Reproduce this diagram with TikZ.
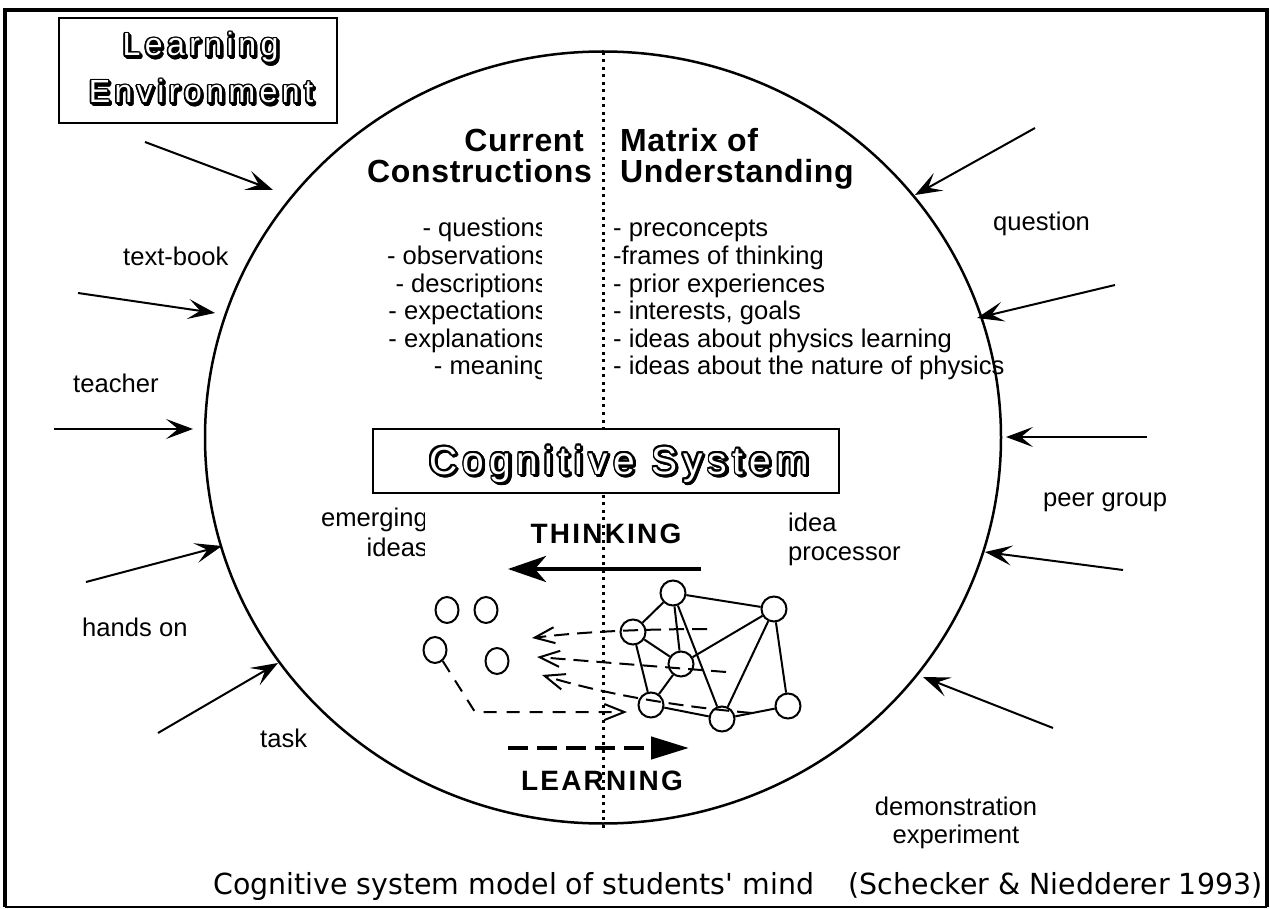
\documentclass[tikz,border=0pt]{standalone}
\usepackage{fontspec}
\usepackage{graphicx}
\setmainfont{Liberation Sans}
\newfontfamily\outfont[LetterSpace=14]{Liberation Sans}
\newfontfamily\headfont[LetterSpace=2]{Liberation Sans}
\newfontfamily\thinkfont[LetterSpace=8]{Liberation Sans}
\newfontfamily\capfont{DejaVu Sans}
\usetikzlibrary{arrows.meta,calc,shapes.geometric}

% outlined text with shadow: #1 name, #2 position, #3 style, #4 text
\newcommand\outltext[4]{%
  \foreach \a in {0,22.5,...,337.5}{\node[#3,text=black] at ($(#2)+(1.8,1.8)+(\a:1.5)$) {#4};}
  \foreach \a in {0,22.5,...,337.5}{\node[#3,text=black] at ($(#2)+(\a:1.5)$) {#4};}
  \node[#3,text=white] (#1) at (#2) {#4};}

\tikzset{
  lbl/.style={font=\fontsize{25.6}{28}\selectfont, inner sep=0pt},
  hdr/.style={font=\headfont\bfseries\fontsize{32}{32}\selectfont, inner sep=0pt},
  outL/.style={font=\outfont\fontsize{32}{32}\selectfont, inner sep=0pt, anchor=base},
  outC/.style={font=\outfont\fontsize{39}{39}\selectfont, inner sep=0pt, anchor=base},
  bigword/.style={font=\thinkfont\bfseries\fontsize{28}{28}\selectfont, inner sep=0pt, anchor=base},
  inarrow/.style={line width=2pt, -{Stealth[length=27pt,width=20pt,inset=12pt]}},
  netnode/.style={circle, draw, line width=2pt, fill=white, minimum size=25pt, inner sep=0pt},
  idea/.style={ellipse, draw, line width=2pt, minimum width=23pt, minimum height=26pt, inner sep=0pt},
  netedge/.style={line width=2pt},
  flow/.style={line width=2pt, dash pattern=on 15pt off 8pt, -{Straight Barb[length=20pt,width=16pt,line width=2pt]}},
  flowshort/.style={line width=2pt, dash pattern=on 13pt off 10pt, -{Straight Barb[length=20pt,width=16pt,line width=2pt]}},
  boxstyle/.style={draw, line width=2pt, fill=white},
}

\begin{document}
\begin{tikzpicture}[x=1pt,y=-1pt]
\useasboundingbox (0,0) rectangle (1270,909);
\fill[white] (0,0) rectangle (1270,909);

% frame
\draw[line width=3.5pt] (5,907) -- (5,10) -- (1267,10) -- (1267,907);
\draw[line width=1.5pt] (5,907) -- (1267,907);

% dotted divider
\coordinate (dtop) at (603,52);
\coordinate (dbot) at (603,828);
\draw[line width=3pt, dash pattern=on 3pt off 4.5pt] (dtop) -- (dbot);

% mind circle
\node[ellipse, draw, line width=2.5pt, minimum width=796pt, minimum height=772pt, inner sep=0pt] (mind) at (603,437.5) {};

% Learning Environment box
\draw[boxstyle] (59,18) rectangle (337,123);
\coordinate (le1) at (200.5,56);
\coordinate (le2) at (201,103);
\outltext{learn}{le1}{outL}{Learning}
\outltext{env}{le2}{outL}{Environment}

% input arrows
\coordinate (a1s) at (145,142);  \coordinate (a1e) at (273,190);
\coordinate (a2s) at (78,293);   \coordinate (a2e) at (215,313);
\coordinate (a3s) at (54,429);   \coordinate (a3e) at (193,429);
\coordinate (a4s) at (86,582);   \coordinate (a4e) at (222,546);
\coordinate (a5s) at (158,733);  \coordinate (a5e) at (278,663);
\coordinate (b1s) at (1035,128); \coordinate (b1e) at (915,195);
\coordinate (b2s) at (1115,285); \coordinate (b2e) at (977,318);
\coordinate (b3s) at (1147,437); \coordinate (b3e) at (1006,437);
\coordinate (b4s) at (1123,570); \coordinate (b4e) at (985,552);
\coordinate (b5s) at (1053,728); \coordinate (b5e) at (923,677);
\foreach \p in {a1,a2,a3,a4,a5,b1,b2,b3,b4,b5}{\draw[inarrow] (\p s) -- (\p e);}

% outside labels
\node[lbl, anchor=base west] (ltext) at (123,266) {text-book};
\node[lbl, anchor=base west] (lteach) at (73,393) {teacher};
\node[lbl, anchor=base west] (lhands) at (82,636) {hands on};
\node[lbl, anchor=base west] (ltask) at (260,747) {task};
\node[lbl, anchor=base west] (lquest) at (993,231) {question};
\node[lbl, anchor=base west] (lpeer) at (1043,506) {peer group};
\node[lbl, anchor=base] (ldemo1) at (956,815) {demonstration};
\node[lbl, anchor=base] (ldemo2) at (956,843) {experiment};

% headers
\node[hdr, anchor=base east] (cur1) at (584,152) {Current};
\node[hdr, anchor=base east] (cur2) at (592,183) {Constructions};
\node[hdr, anchor=base west] (mat1) at (620,152) {Matrix of};
\node[hdr, anchor=base west] (mat2) at (620,183) {Understanding};

% left list (clipped)
\begin{scope}
\clip (300,200) rectangle (541.5,400);
\node[lbl, anchor=base east] (c1) at (548,237) {- questions};
\node[lbl, anchor=base east] (c2) at (548,265) {- observations};
\node[lbl, anchor=base east] (c3) at (548,292.5) {- descriptions};
\node[lbl, anchor=base east] (c4) at (548,320) {- expectations};
\node[lbl, anchor=base east] (c5) at (548,347.5) {- explanations};
\node[lbl, anchor=base east] (c6) at (548,375) {- meaning};
\end{scope}

% right list
\node[lbl, anchor=base west] (m1) at (613,237) {- preconcepts};
\node[lbl, anchor=base west] (m2) at (613,265) {-frames of thinking};
\node[lbl, anchor=base west] (m3) at (613,292.5) {- prior experiences};
\node[lbl, anchor=base west] (m4) at (613,320) {- interests, goals};
\node[lbl, anchor=base west] (m5) at (613,347.5) {- ideas about physics learning};
\node[lbl, anchor=base west] (m6) at (613,375) {- ideas about the nature of physics};

% Cognitive System box
\draw[boxstyle] (373,429) rectangle (839,493);
\coordinate (cs) at (619,474);
\outltext{cogsys}{cs}{outC}{Cognitive System}

% emerging ideas / idea processor
\begin{scope}
\clip (300,490) rectangle (424,580);
\node[lbl, anchor=base east] (em1) at (428,526) {emerging};
\node[lbl, anchor=base east] (em2) at (428,556) {ideas};
\end{scope}
\node[lbl, anchor=base west] (ip1) at (788,531) {idea};
\node[lbl, anchor=base west] (ip2) at (788,560) {processor};

% THINKING
\node[bigword] (think) at (606,543) {THINKING};
\coordinate (ths) at (701,569);
\coordinate (the) at (508,569);
\draw[line width=4.5pt, -{Stealth[length=38pt,width=26pt,inset=11pt]}] (ths) -- (the);

% LEARNING
\node[bigword] (learnw) at (602,790) {LEARNING};
\coordinate (lrs) at (508,748);
\coordinate (lre) at (689,748);
\draw[line width=4.5pt, dash pattern=on 20pt off 9pt, -{Triangle[length=38pt,width=22pt]}] (lrs) -- (lre);

% emerging idea circles
\node[idea] (i1) at (447,610) {};
\node[idea] (i2) at (486,610) {};
\node[idea] (i3) at (435,650) {};
\node[idea] (i4) at (497,661) {};

% network
\node[netnode] (nA) at (673,593) {};
\node[netnode] (nB) at (774,609) {};
\node[netnode] (nC) at (633,632) {};
\node[netnode] (nD) at (681,664) {};
\node[netnode] (nE) at (651,705) {};
\node[netnode] (nF) at (722,719) {};
\node[netnode] (nG) at (788,706) {};
\foreach \u/\v in {nA/nB,nA/nC,nA/nD,nA/nF,nC/nD,nC/nE,nD/nB,nD/nE,nB/nF,nB/nG,nE/nF,nF/nG}{\draw[netedge] (\u) -- (\v);}

% dashed flows
\coordinate (f1s) at (707,629); \coordinate (f1e) at (532,638);
\coordinate (f2s) at (726,672); \coordinate (f2e) at (537,657);
\coordinate (f3s) at (752,713); \coordinate (f3e) at (542,675);
\draw[flow] (f1s) .. controls (640,629) and (580,632) .. (f1e);
\draw[flow] (f2s) -- (f2e);
\draw[flow] (f3s) .. controls (660,705) and (590,690) .. (f3e);
\coordinate (f4m) at (475,712);
\coordinate (f4e) at (627,712);
\draw[flowshort] (i3.-55) -- (f4m) -- (f4e);

% caption
\node[inner sep=0pt, anchor=base west] (caption) at (213,894) {\resizebox{1049pt}{\height}{\capfont\fontsize{29}{29}\selectfont Cognitive system model of students' mind\hspace{0.9em} (Schecker \& Niedderer 1993)}};
\end{tikzpicture}
\end{document}
